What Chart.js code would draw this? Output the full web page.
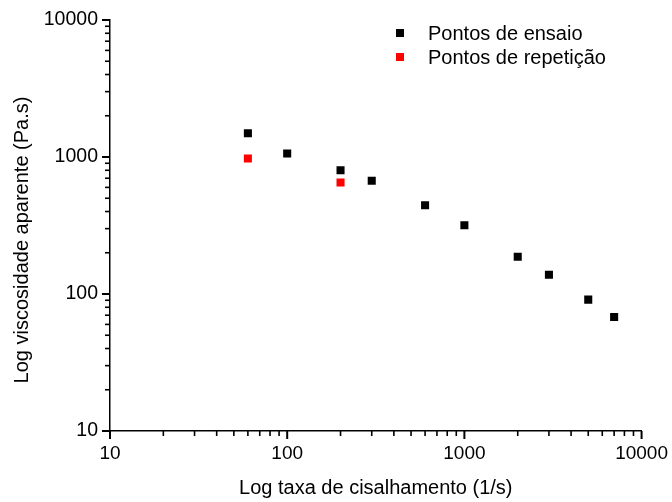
<!DOCTYPE html>
<html>
<head>
<meta charset="utf-8">
<script src="https://cdn.jsdelivr.net/npm/chart.js@4.4.1/dist/chart.umd.min.js"></script>
<style>
    html, body { margin: 0; padding: 0; background: #fff; }
    #myChart { display: block; }
</style>
</head>
<body>
<canvas id="myChart" width="672" height="502"></canvas>
<script>
// valores
const ensaioX = [60, 100, 200, 300, 600, 1000, 2000, 3000, 5000, 7000];
const ensaioY = [1490, 1060, 800, 670, 445, 318, 187, 138, 91, 68];
const repeticaoX = [60, 200];
const repeticaoY = [975, 652];
const xTickLabels = [10, 100, 1000, 10000];
const yTickLabels = [10, 100, 1000, 10000];

const fontFamily = '"Liberation Sans", Arial, sans-serif';
const yTitle = 'Log viscosidade aparente (Pa.s)';

function toPoints(xs, ys) {
    return xs.map((x, i) => ({ x: x, y: ys[i] }));
}

// marcas de escala: 1..9 x 10^n entre os rótulos
function allTicks(majors) {
    const list = [];
    for (let i = 0; i < majors.length - 1; i++) {
        for (let k = 1; k < 10; k++) {
            list.push(majors[i] * k);
        }
    }
    list.push(majors[majors.length - 1]);
    return list;
}

function setTicks(majors) {
    return function (scale) {
        scale.ticks = allTicks(majors).map(v => ({ value: v }));
    };
}

const tickMarks = {
    id: 'tickMarks',
    afterDraw(chart) {
        const c = chart.ctx;
        const area = chart.chartArea;
        const xs = chart.scales.x;
        const ys = chart.scales.y;
        c.save();
        c.fillStyle = 'rgb(0,0,0)';
        allTicks(xTickLabels).forEach(v => {
            const major = xTickLabels.includes(v);
            const px = xs.getPixelForValue(v);
            const w = major ? 2 : 1.6;
            c.fillRect(px - w / 2, area.bottom, w, major ? 8 : 5);
        });
        allTicks(yTickLabels).forEach(v => {
            const major = yTickLabels.includes(v);
            const py = ys.getPixelForValue(v);
            const w = major ? 2 : 1.6;
            const len = major ? 8 : 5;
            c.fillRect(area.left - len, py - w / 2, len, w);
        });
        c.restore();
    }
};

const yTitleDraw = {
    id: 'yTitleDraw',
    afterDraw(chart) {
        const c = chart.ctx;
        c.save();
        c.translate(22, 240);
        c.rotate(-Math.PI / 2);
        c.font = '20px ' + fontFamily;
        c.fillStyle = '#000';
        c.textAlign = 'center';
        c.textBaseline = 'middle';
        c.fillText(yTitle, 0, 0);
        c.restore();
    }
};

const insideLegend = {
    id: 'insideLegend',
    afterDraw(chart) {
        const c = chart.ctx;
        c.save();
        c.font = '20px ' + fontFamily;
        c.textBaseline = 'alphabetic';
        chart.data.datasets.forEach((ds, i) => {
            const y = 33 + i * 24;
            c.fillStyle = ds.backgroundColor;
            c.fillRect(396, y - 4, 8, 8);
            c.fillStyle = '#000';
            c.fillText(ds.label, 428, y + 7);
        });
        c.restore();
    }
};

const ctx = document.getElementById('myChart').getContext('2d');
const myChart = new Chart(ctx, {
    type: 'scatter',
    data: {
        datasets: [{
                label: 'Pontos de ensaio',
                data: toPoints(ensaioX, ensaioY),
                backgroundColor: '#000000',
                borderWidth: 0,
                pointStyle: 'rect',
                pointRadius: 5.7
            }, {
                label: 'Pontos de repetição',
                data: toPoints(repeticaoX, repeticaoY),
                backgroundColor: '#ff0000',
                borderWidth: 0,
                pointStyle: 'rect',
                pointRadius: 5.7
            }]
    },
    options: {
        responsive: false,
        animation: false,
        devicePixelRatio: 1,
        layout: {
            padding: { top: 20, right: 29, bottom: 0, left: 0 }
        },
        plugins: {
            legend: { display: false },
            tooltip: { enabled: false }
        },
        scales: {
            x: {
                type: 'logarithmic',
                min: 10,
                max: 10000,
                afterBuildTicks: setTicks(xTickLabels),
                afterFit: function (scale) { scale.height = 71; },
                border: { display: true, color: '#000', width: 1.5 },
                grid: { display: true, drawOnChartArea: false, tickLength: 7, tickColor: 'rgba(0,0,0,0)' },
                ticks: {
                    autoSkip: false,
                    maxRotation: 0,
                    padding: 4,
                    color: '#000',
                    font: { family: fontFamily, size: 19 },
                    callback: function (value) {
                        return xTickLabels.includes(value) ? String(value) : '';
                    }
                },
                title: {
                    display: true,
                    text: 'Log taxa de cisalhamento (1/s)',
                    color: '#000',
                    font: { family: fontFamily, size: 20 },
                    padding: { top: 0, bottom: 2 }
                }
            },
            y: {
                type: 'logarithmic',
                min: 10,
                max: 10000,
                afterBuildTicks: setTicks(yTickLabels),
                afterFit: function (scale) { scale.width = 110; },
                border: { display: true, color: '#000', width: 1.5 },
                grid: { display: true, drawOnChartArea: false, tickLength: 7, tickColor: 'rgba(0,0,0,0)' },
                ticks: {
                    autoSkip: false,
                    padding: 5,
                    color: '#000',
                    font: { family: fontFamily, size: 19.5 },
                    callback: function (value) {
                        return yTickLabels.includes(value) ? String(value) : '';
                    }
                }
            }
        }
    },
    plugins: [tickMarks, yTitleDraw, insideLegend]
});
</script>
</body>
</html>
